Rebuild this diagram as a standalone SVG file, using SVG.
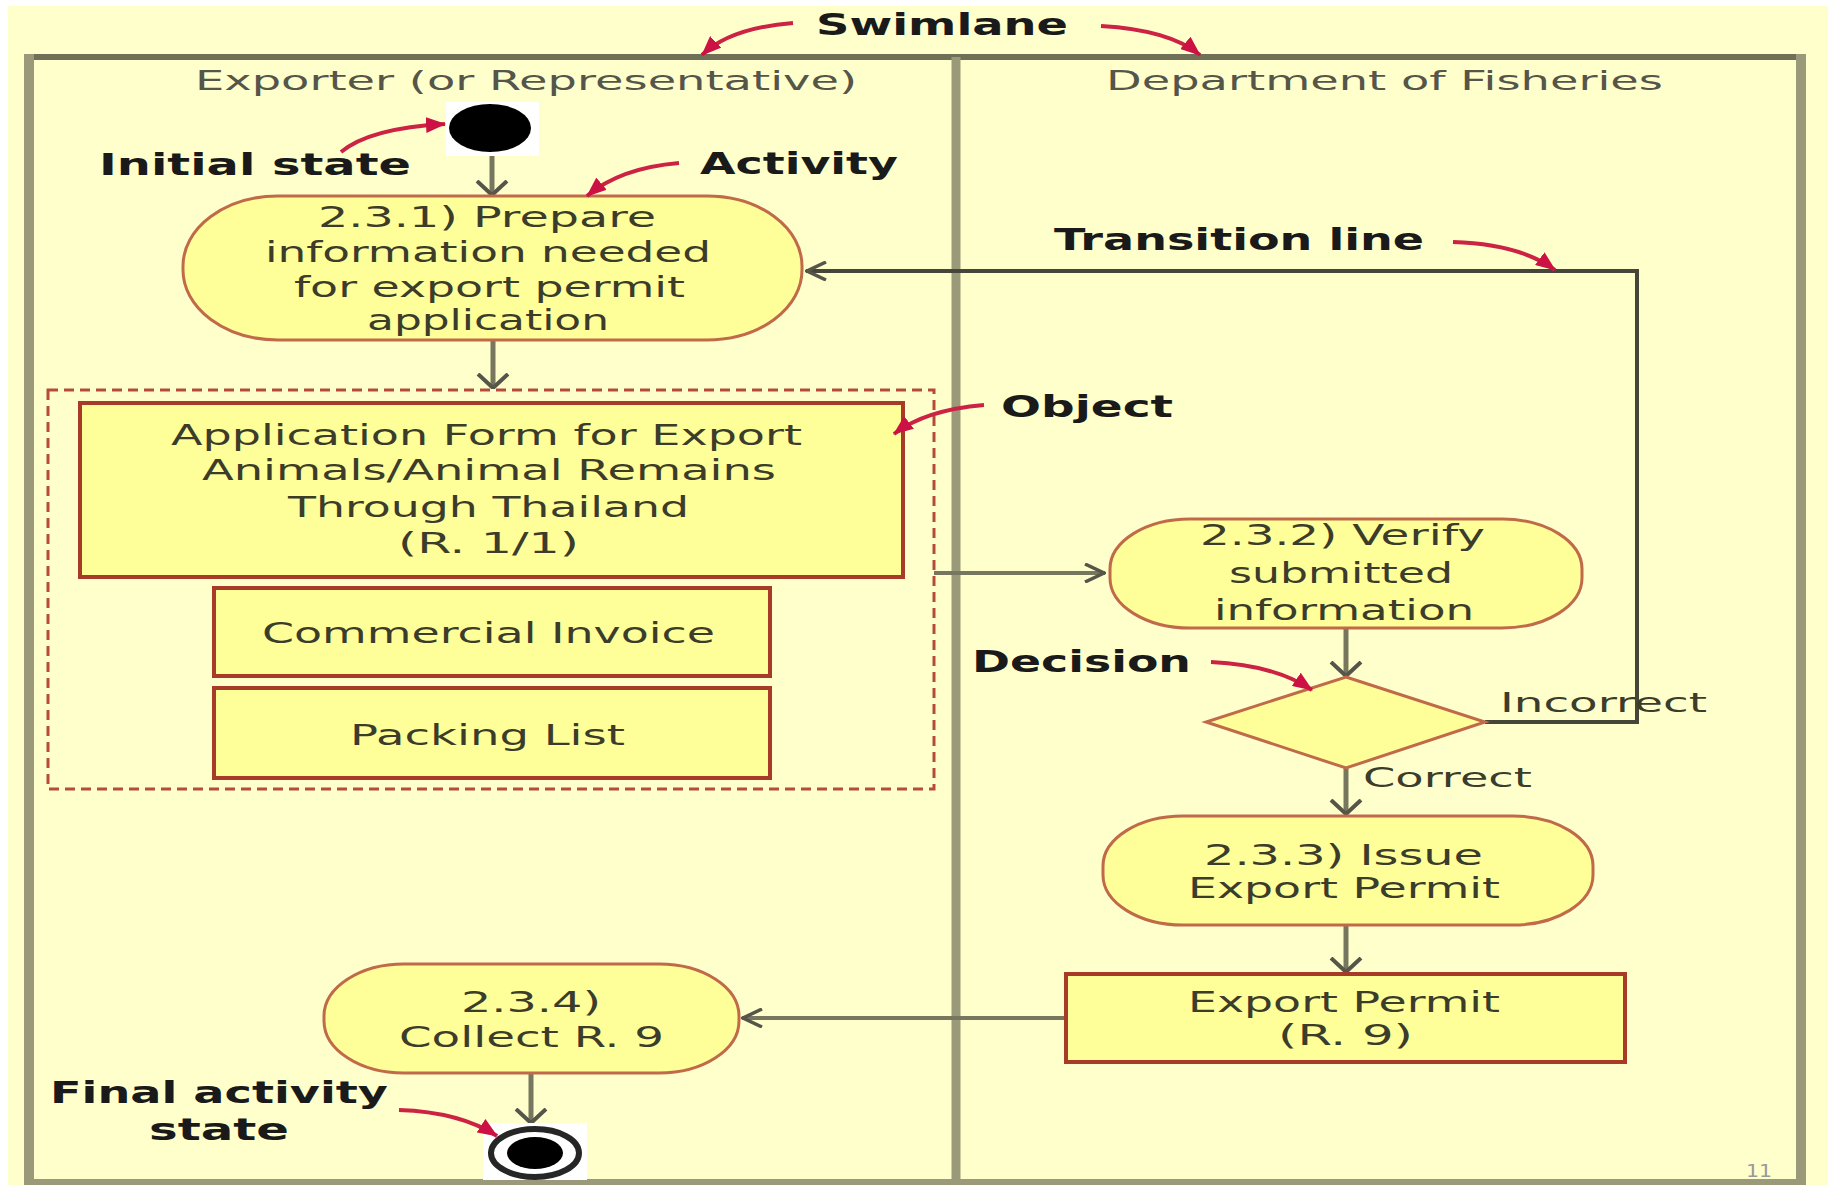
<svg xmlns="http://www.w3.org/2000/svg" width="1828" height="1185" viewBox="0 0 1828 1185">
<style>
text{font-family:"DejaVu Sans","Liberation Sans",sans-serif;}
.hdr{font-size:27px;fill:#55554a;}
.act{font-size:29px;fill:#3c3c2a;}
.lbl{font-size:30px;font-weight:bold;fill:#1a1a1a;}
.grd{font-size:27px;fill:#3c3c2a;}
.stadium{fill:#FFFF99;stroke:#C06A4A;stroke-width:3;}
.obj{fill:#FFFF99;stroke:#A83A28;stroke-width:4;}
.flow{fill:none;stroke:#77775f;stroke-width:5;}
.flowh{fill:none;stroke:#77775f;stroke-width:4;}
.back{fill:none;stroke:#45453a;stroke-width:4;}
.note{fill:none;stroke:#CC2244;stroke-width:4;}
</style>
<defs>
<marker id="arrV" markerUnits="userSpaceOnUse" viewBox="0 0 16 34" refX="15" refY="17" markerWidth="16" markerHeight="34" orient="auto">
<path d="M1,2 L15,17 L1,32" fill="none" stroke="#55554a" stroke-width="4"/>
</marker>
<marker id="arrH" markerUnits="userSpaceOnUse" viewBox="0 0 22 20" refX="21" refY="10" markerWidth="22" markerHeight="20" orient="auto">
<path d="M1,1 L20,10 L1,19" fill="none" stroke="#55554a" stroke-width="3.5"/>
</marker>
<marker id="arrR" markerUnits="userSpaceOnUse" viewBox="0 0 20 16" refX="19" refY="8" markerWidth="20" markerHeight="16" orient="auto">
<path d="M0,0 L20,8 L0,16 z" fill="#CC1144"/>
</marker>
</defs>

<rect x="0" y="0" width="1828" height="1185" fill="#ffffff"/>
<rect x="8" y="6" width="1820" height="1179" fill="#FFFFCC"/>

<text x="1746" y="1177" font-size="18" fill="#999999" textLength="26" lengthAdjust="spacingAndGlyphs">11</text>

<g id="swimlanes">
<line x1="24" y1="57" x2="1806" y2="57" stroke="#707058" stroke-width="6"/>
<line x1="24" y1="1182" x2="1806" y2="1182" stroke="#9a9a7a" stroke-width="6"/>
<line x1="29" y1="54" x2="29" y2="1185" stroke="#9a9a7a" stroke-width="10"/>
<line x1="1801" y1="54" x2="1801" y2="1185" stroke="#9a9a7a" stroke-width="10"/>
<line x1="956" y1="57" x2="956" y2="1182" stroke="#9a9a7a" stroke-width="9"/>
<text class="hdr" x="195" y="90" textLength="662" lengthAdjust="spacingAndGlyphs">Exporter (or Representative)</text>
<text class="hdr" x="1106" y="90" textLength="557" lengthAdjust="spacingAndGlyphs">Department of Fisheries</text>
</g>

<g id="connectors">
<line class="flow" x1="492" y1="152" x2="492" y2="195" marker-end="url(#arrV)"/>
<line class="flow" x1="493" y1="340" x2="493" y2="388" marker-end="url(#arrV)"/>
<line class="flowh" x1="934" y1="573" x2="1105" y2="573" marker-end="url(#arrH)"/>
<line class="flow" x1="1346" y1="628" x2="1346" y2="676" marker-end="url(#arrV)"/>
<polyline class="back" points="1485,722 1637,722 1637,271 806,271" marker-end="url(#arrH)"/>
<line class="flow" x1="1346" y1="768" x2="1346" y2="814" marker-end="url(#arrV)"/>
<line class="flow" x1="1346" y1="925" x2="1346" y2="972" marker-end="url(#arrV)"/>
<line class="flowh" x1="1066" y1="1018" x2="742" y2="1018" marker-end="url(#arrH)"/>
<line class="flow" x1="531" y1="1073" x2="531" y2="1123" marker-end="url(#arrV)"/>
</g>

<g id="initial">
<rect x="446" y="102" width="93" height="54" fill="#ffffff"/>
<ellipse cx="490" cy="128" rx="41" ry="24" fill="#000000"/>
</g>

<g id="act1">
<rect class="stadium" x="183" y="196" width="619" height="144" rx="95" ry="70"/>
<text class="act" x="318" y="227" textLength="338" lengthAdjust="spacingAndGlyphs">2.3.1) Prepare</text>
<text class="act" x="265" y="262" textLength="446" lengthAdjust="spacingAndGlyphs">information needed</text>
<text class="act" x="294" y="297" textLength="391" lengthAdjust="spacingAndGlyphs">for export permit</text>
<text class="act" x="367" y="330" textLength="242" lengthAdjust="spacingAndGlyphs">application</text>
</g>

<g id="objects">
<rect x="48" y="390" width="886" height="399" fill="none" stroke="#B84A3A" stroke-width="3" stroke-dasharray="10 6"/>
<g id="appform">
<rect class="obj" x="80" y="403" width="823" height="174"/>
<text class="act" x="171" y="445" textLength="631" lengthAdjust="spacingAndGlyphs">Application Form for Export</text>
<text class="act" x="202" y="480" textLength="574" lengthAdjust="spacingAndGlyphs">Animals/Animal Remains</text>
<text class="act" x="288" y="517" textLength="401" lengthAdjust="spacingAndGlyphs">Through Thailand</text>
<text class="act" x="398" y="553" textLength="181" lengthAdjust="spacingAndGlyphs">(R. 1/1)</text>
</g>
<g id="invoice">
<rect class="obj" x="214" y="588" width="556" height="88"/>
<text class="act" x="262" y="643" textLength="453" lengthAdjust="spacingAndGlyphs">Commercial Invoice</text>
</g>
<g id="packing">
<rect class="obj" x="214" y="688" width="556" height="90" stroke="#C07A50"/>
<text class="act" x="350" y="745" textLength="275" lengthAdjust="spacingAndGlyphs">Packing List</text>
</g>
</g>

<g id="act2">
<rect class="stadium" x="1110" y="519" width="472" height="109" rx="80" ry="50"/>
<text class="act" x="1200" y="545" textLength="285" lengthAdjust="spacingAndGlyphs">2.3.2) Verify</text>
<text class="act" x="1229" y="583" textLength="224" lengthAdjust="spacingAndGlyphs">submitted</text>
<text class="act" x="1214" y="620" textLength="260" lengthAdjust="spacingAndGlyphs">information</text>
</g>

<g id="decision">
<polygon points="1346,677 1485,722 1346,768 1206,722" fill="#FFFF99" stroke="#C06A4A" stroke-width="3"/>
<text class="grd" x="1500" y="712" textLength="207" lengthAdjust="spacingAndGlyphs">Incorrect</text>
<text class="grd" x="1363" y="787" textLength="169" lengthAdjust="spacingAndGlyphs">Correct</text>
</g>

<g id="act3">
<rect class="stadium" x="1103" y="816" width="490" height="109" rx="80" ry="50"/>
<text class="act" x="1204" y="865" textLength="279" lengthAdjust="spacingAndGlyphs">2.3.3) Issue</text>
<text class="act" x="1188" y="898" textLength="312" lengthAdjust="spacingAndGlyphs">Export Permit</text>
</g>

<g id="permit">
<rect class="obj" x="1066" y="974" width="559" height="88"/>
<text class="act" x="1188" y="1012" textLength="312" lengthAdjust="spacingAndGlyphs">Export Permit</text>
<text class="act" x="1278" y="1045" textLength="135" lengthAdjust="spacingAndGlyphs">(R. 9)</text>
</g>

<g id="act4">
<rect class="stadium" x="324" y="964" width="415" height="109" rx="80" ry="52"/>
<text class="act" x="461" y="1012" textLength="140" lengthAdjust="spacingAndGlyphs">2.3.4)</text>
<text class="act" x="399" y="1047" textLength="265" lengthAdjust="spacingAndGlyphs">Collect R. 9</text>
</g>

<g id="final">
<rect x="483" y="1123" width="104" height="57" fill="#ffffff"/>
<ellipse cx="535" cy="1153" rx="44" ry="24" fill="#ffffff" stroke="#262626" stroke-width="6"/>
<ellipse cx="535" cy="1153" rx="28" ry="16" fill="#000000"/>
</g>

<g id="annotations">
<text class="lbl" x="816" y="35" textLength="252" lengthAdjust="spacingAndGlyphs">Swimlane</text>
<text class="lbl" x="99" y="175" textLength="312" lengthAdjust="spacingAndGlyphs">Initial state</text>
<text class="lbl" x="700" y="174" textLength="198" lengthAdjust="spacingAndGlyphs">Activity</text>
<text class="lbl" x="1054" y="250" textLength="370" lengthAdjust="spacingAndGlyphs">Transition line</text>
<text class="lbl" x="1001" y="417" textLength="172" lengthAdjust="spacingAndGlyphs">Object</text>
<text class="lbl" x="972" y="672" textLength="219" lengthAdjust="spacingAndGlyphs">Decision</text>
<text class="lbl" x="50" y="1103" textLength="338" lengthAdjust="spacingAndGlyphs">Final activity</text>
<text class="lbl" x="149" y="1140" textLength="140" lengthAdjust="spacingAndGlyphs">state</text>
<path class="note" d="M793,23 Q730,28 702,55" marker-end="url(#arrR)"/>
<path class="note" d="M1101,26 Q1170,30 1200,55" marker-end="url(#arrR)"/>
<path class="note" d="M341,152 Q370,128 445,124" marker-end="url(#arrR)"/>
<path class="note" d="M679,163 Q620,168 587,196" marker-end="url(#arrR)"/>
<path class="note" d="M984,405 Q925,410 894,434" marker-end="url(#arrR)"/>
<path class="note" d="M1453,242 Q1520,244 1555,270" marker-end="url(#arrR)"/>
<path class="note" d="M1211,662 Q1275,665 1312,690" marker-end="url(#arrR)"/>
<path class="note" d="M399,1110 Q460,1112 497,1136" marker-end="url(#arrR)"/>
</g>
</svg>
